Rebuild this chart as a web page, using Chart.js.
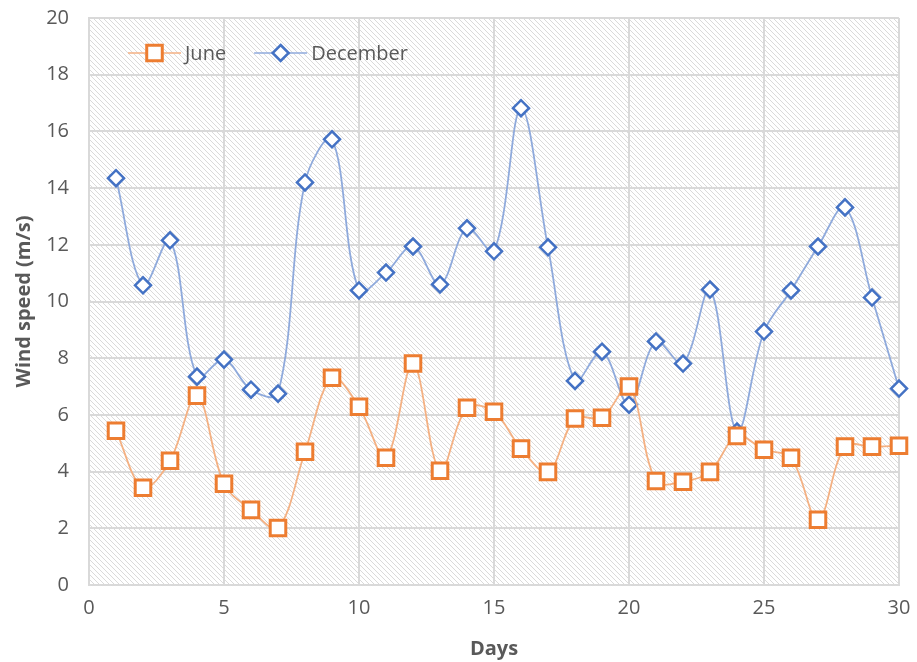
<!DOCTYPE html>
<html>
<head>
<meta charset="utf-8">
<script src="https://cdn.jsdelivr.net/npm/chart.js@4.4.0/dist/chart.umd.min.js"></script>
<style>
  html, body { margin: 0; padding: 0; background: #fff; }
  #wrap { width: 917px; height: 662px; }
</style>
</head>
<body>
<div id="wrap"><canvas id="wind-chart" width="917" height="662"></canvas></div>
<script>
const days = Array.from({ length: 30 }, (_, i) => i + 1);
const juneSpeed = [5.44, 3.43, 4.38, 6.68, 3.57, 2.65, 2.01, 4.70, 7.31, 6.29,
                   4.49, 7.81, 4.03, 6.25, 6.11, 4.81, 3.99, 5.87, 5.90, 7.00,
                   3.67, 3.64, 3.99, 5.26, 4.77, 4.49, 2.30, 4.88, 4.88, 4.91];
const decSpeed = [14.35, 10.57, 12.16, 7.35, 7.95, 6.89, 6.75, 14.20, 15.72, 10.39,
                  11.02, 11.94, 10.60, 12.58, 11.77, 16.82, 11.91, 7.20, 8.23, 6.36,
                  8.59, 7.81, 10.42, 5.41, 8.94, 10.39, 11.94, 13.32, 10.14, 6.93];
const xTicks = [0, 5, 10, 15, 20, 25, 30];
const yTicks = [0, 2, 4, 6, 8, 10, 12, 14, 16, 18, 20];

const TEXT = '#595959';
const FONT = 'Open Sans';

// diagonal hatch for the plot background
function hatchPattern(ctx) {
  const c = document.createElement('canvas');
  c.width = 5; c.height = 5;
  const p = c.getContext('2d');
  p.fillStyle = '#fff';
  p.fillRect(0, 0, 5, 5);
  p.strokeStyle = '#dadada';
  p.lineWidth = 1;
  p.beginPath();
  p.moveTo(-1, -1); p.lineTo(6, 6);
  p.moveTo(-1, 4); p.lineTo(1, 6);
  p.moveTo(4, -1); p.lineTo(6, 1);
  p.stroke();
  return ctx.createPattern(c, 'repeat');
}

const hatchBg = {
  id: 'hatchBg',
  beforeDraw(chart) {
    const { ctx, chartArea: a } = chart;
    ctx.save();
    ctx.fillStyle = hatchPattern(ctx);
    ctx.fillRect(a.left, a.top, a.right - a.left, a.bottom - a.top);
    ctx.restore();
  }
};

function drawMarker(ctx, ds, x, y) {
  ctx.save();
  ctx.fillStyle = '#fff';
  ctx.strokeStyle = ds.pointBorderColor;
  ctx.lineWidth = ds.pointBorderWidth;
  ctx.beginPath();
  if (ds.pointStyle === 'rect') {
    const s = ds.pointRadius * Math.SQRT1_2;
    ctx.rect(x - s, y - s, s * 2, s * 2);
  } else {
    const r = ds.pointRadius;
    ctx.moveTo(x, y - r); ctx.lineTo(x + r, y); ctx.lineTo(x, y + r); ctx.lineTo(x - r, y);
    ctx.closePath();
  }
  ctx.fill();
  ctx.stroke();
  ctx.restore();
}

// legend drawn inside the plot, top-left
const insideLegend = {
  id: 'insideLegend',
  afterDraw(chart) {
    const { ctx } = chart;
    const y = 53;
    let x = 128;
    chart.data.datasets.forEach(ds => {
      ctx.save();
      ctx.strokeStyle = ds.borderColor;
      ctx.lineWidth = 1.5;
      ctx.beginPath();
      ctx.moveTo(x, y); ctx.lineTo(x + 53, y);
      ctx.stroke();
      ctx.restore();
      drawMarker(ctx, ds, x + 26.5, y);
      ctx.save();
      ctx.fillStyle = TEXT;
      ctx.font = `20px "${FONT}"`;
      ctx.textBaseline = 'middle';
      ctx.fillText(ds.label, x + 57, y + 1);
      const w = ctx.measureText(ds.label).width;
      ctx.restore();
      x += 57 + w + 28;
    });
  }
};

new Chart(document.getElementById('wind-chart'), {
  type: 'line',
  data: {
    datasets: [
      {
        label: 'June',
        data: days.map((d, i) => ({ x: d, y: juneSpeed[i] })),
        borderColor: '#f4b183',
        borderWidth: 1.8,
        pointStyle: 'rect',
        pointRadius: 11,
        pointBorderWidth: 3,
        pointBorderColor: '#ed7d31',
        pointBackgroundColor: '#fff',
        tension: 0.35,
        clip: false
      },
      {
        label: 'December',
        data: days.map((d, i) => ({ x: d, y: decSpeed[i] })),
        borderColor: '#8faadc',
        borderWidth: 1.8,
        pointStyle: 'rectRot',
        pointRadius: 8,
        pointBorderWidth: 2.5,
        pointBorderColor: '#4472c4',
        pointBackgroundColor: '#fff',
        tension: 0.35,
        clip: false
      }
    ]
  },
  options: {
    responsive: false,
    animation: false,
    layout: { padding: { top: 6, right: 18, left: 8, bottom: 0 } },
    plugins: {
      legend: { display: false },
      tooltip: { enabled: false }
    },
    scales: {
      x: {
        type: 'linear',
        min: 0, max: 30,
        afterBuildTicks: s => { s.ticks = xTicks.map(v => ({ value: v })); },
        afterFit: s => { s.paddingRight = 0; },
        grid: { color: '#d9d9d9', lineWidth: 2, drawTicks: false },
        border: { color: '#d9d9d9', width: 2 },
        ticks: { color: TEXT, font: { family: FONT, size: 20 }, padding: 11 },
        title: { display: true, text: 'Days', color: TEXT, font: { family: FONT, size: 20, weight: 'bold' }, padding: { top: 6, bottom: 1 } }
      },
      y: {
        min: 0, max: 20,
        afterBuildTicks: s => { s.ticks = yTicks.map(v => ({ value: v })); },
        afterFit: s => { s.width = 81; s.paddingTop = 18; },
        grid: { color: '#d9d9d9', lineWidth: 2, drawTicks: false },
        border: { color: '#d9d9d9', width: 2 },
        ticks: { color: TEXT, font: { family: FONT, size: 20 }, padding: 20 },
        title: { display: true, text: 'Wind speed (m/s)', color: TEXT, font: { family: FONT, size: 20, weight: 'bold' }, padding: { bottom: 1 } }
      }
    }
  },
  plugins: [hatchBg, insideLegend]
});
</script>
</body>
</html>
